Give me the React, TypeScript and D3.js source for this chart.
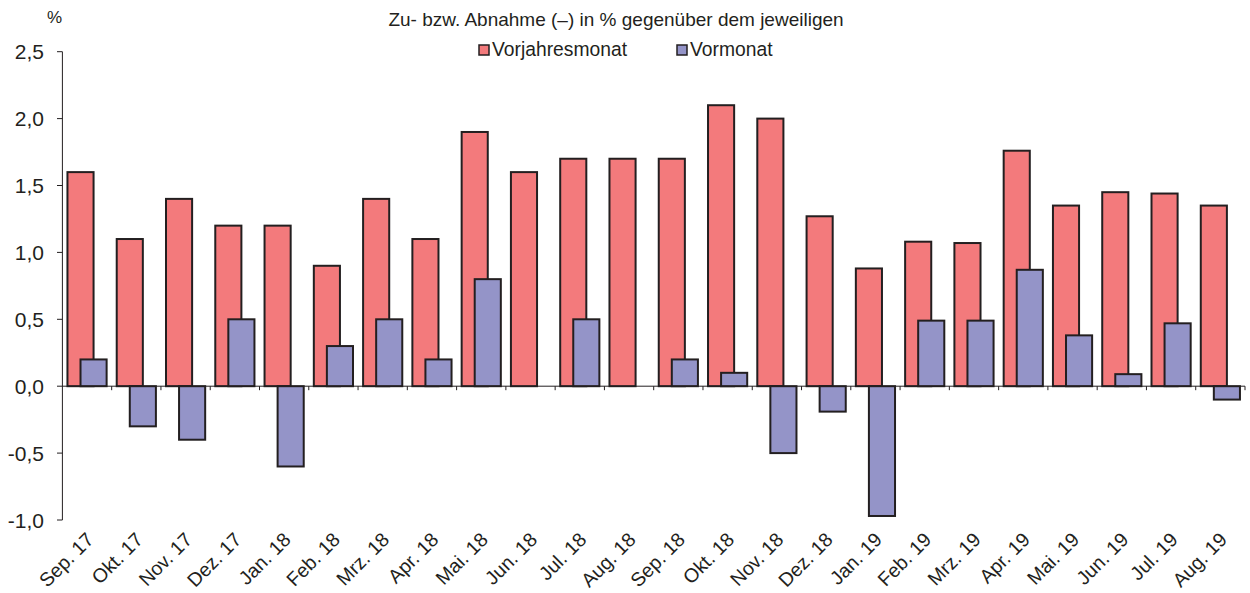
import React from 'react'
import * as d3 from 'd3'

const months = [
    'Sep. 17', 'Okt. 17', 'Nov. 17', 'Dez. 17', 'Jan. 18', 'Feb. 18', 'Mrz. 18', 'Apr. 18',
    'Mai. 18', 'Jun. 18', 'Jul. 18', 'Aug. 18', 'Sep. 18', 'Okt. 18', 'Nov. 18', 'Dez. 18',
    'Jan. 19', 'Feb. 19', 'Mrz. 19', 'Apr. 19', 'Mai. 19', 'Jun. 19', 'Jul. 19', 'Aug. 19',
]
const vorjahresmonat = [
    1.6, 1.1, 1.4, 1.2, 1.2, 0.9, 1.4, 1.1, 1.9, 1.6, 1.7, 1.7,
    1.7, 2.1, 2.0, 1.27, 0.88, 1.08, 1.07, 1.76, 1.35, 1.45, 1.44, 1.35,
]
const vormonat = [
    0.2, -0.3, -0.4, 0.5, -0.6, 0.3, 0.5, 0.2, 0.8, 0.0, 0.5, 0.0,
    0.2, 0.1, -0.5, -0.19, -0.97, 0.49, 0.49, 0.87, 0.38, 0.09, 0.47, -0.1,
]
const yTicks = [-1, -0.5, 0, 0.5, 1, 1.5, 2, 2.5]

const W = 1250
const H = 593
const FONT = 'Arial, "Liberation Sans", sans-serif'
const INK = '#231f20'
const RED = '#f37a7c'
const BLUE = '#9494c8'

const App = () => {
    const x = d3.scaleBand<string>().domain(months).range([62.4, 1245]).paddingInner(0).paddingOuter(0)
    const y = d3.scaleLinear().domain([-1, 2.5]).range([520, 51.7])
    const fmt = (v: number) => d3.format('.1f')(v).replace('.', ',').replace('−', '-')

    const bw = x.bandwidth()
    const barW = bw * 0.53
    // red bar sits left, blue overlaps it by half
    const redX = (m: string) => x(m)! + bw / 2 - barW * 0.75
    const blueX = (m: string) => x(m)! + bw / 2 - barW * 0.25

    const bar = (v: number) => ({ y: Math.min(y(v), y(0)), h: Math.abs(y(v) - y(0)) })

    return (
        <svg width={W} height={H} style={{ position: 'absolute', left: 0, top: 0, background: '#fff' }} fontFamily={FONT}>
            {/* title + legend */}
            <text x={616} y={26} textAnchor="middle" fontSize={19} fill={INK}>
                Zu- bzw. Abnahme (–) in % gegenüber dem jeweiligen
            </text>
            <rect x={479} y={45} width={10} height={10} fill={RED} stroke={INK} strokeWidth={1.5} />
            <text x={492} y={56} fontSize={19.3} fill={INK}>Vorjahresmonat</text>
            <rect x={677} y={45} width={10} height={10} fill={BLUE} stroke={INK} strokeWidth={1.5} />
            <text x={690} y={56} fontSize={19.3} fill={INK}>Vormonat</text>

            <text x={47} y={23} fontSize={17} fill={INK}>%</text>

            {/* y axis */}
            <line x1={62.4} x2={62.4} y1={y(2.5)} y2={y(-1)} stroke={INK} strokeWidth={1} />
            {yTicks.map(t => (
                <g key={t}>
                    <line x1={57} x2={62.4} y1={y(t)} y2={y(t)} stroke={INK} strokeWidth={1} />
                    <text x={44} y={y(t)} dy="0.36em" textAnchor="end" fontSize={21} fill={INK}>{fmt(t)}</text>
                </g>
            ))}

            {/* bars */}
            {months.map((m, i) => {
                const r = bar(vorjahresmonat[i])
                return <rect key={'r' + m} x={redX(m)} y={r.y} width={barW} height={r.h} fill={RED} stroke={INK} strokeWidth={2} />
            })}
            {months.map((m, i) => {
                if (vormonat[i] === 0) return null
                const b = bar(vormonat[i])
                return <rect key={'b' + m} x={blueX(m)} y={b.y} width={barW} height={b.h} fill={BLUE} stroke={INK} strokeWidth={2} />
            })}

            {/* zero line + category ticks */}
            <line x1={62.4} x2={1245} y1={y(0)} y2={y(0)} stroke={INK} strokeWidth={1} />
            {months.map(m => (
                <line key={'t' + m} x1={x(m)! + bw} x2={x(m)! + bw} y1={y(0)} y2={y(0) + 4} stroke={INK} strokeWidth={1} />
            ))}

            {/* x labels */}
            {months.map(m => (
                <text
                    key={'l' + m}
                    transform={`translate(${x(m)! + bw / 2 + 3},${536}) rotate(-45)`}
                    textAnchor="end"
                    dy="0.35em"
                    fontSize={19.5}
                    fill={INK}
                >
                    {m}
                </text>
            ))}
        </svg>
    )
}

export default App
